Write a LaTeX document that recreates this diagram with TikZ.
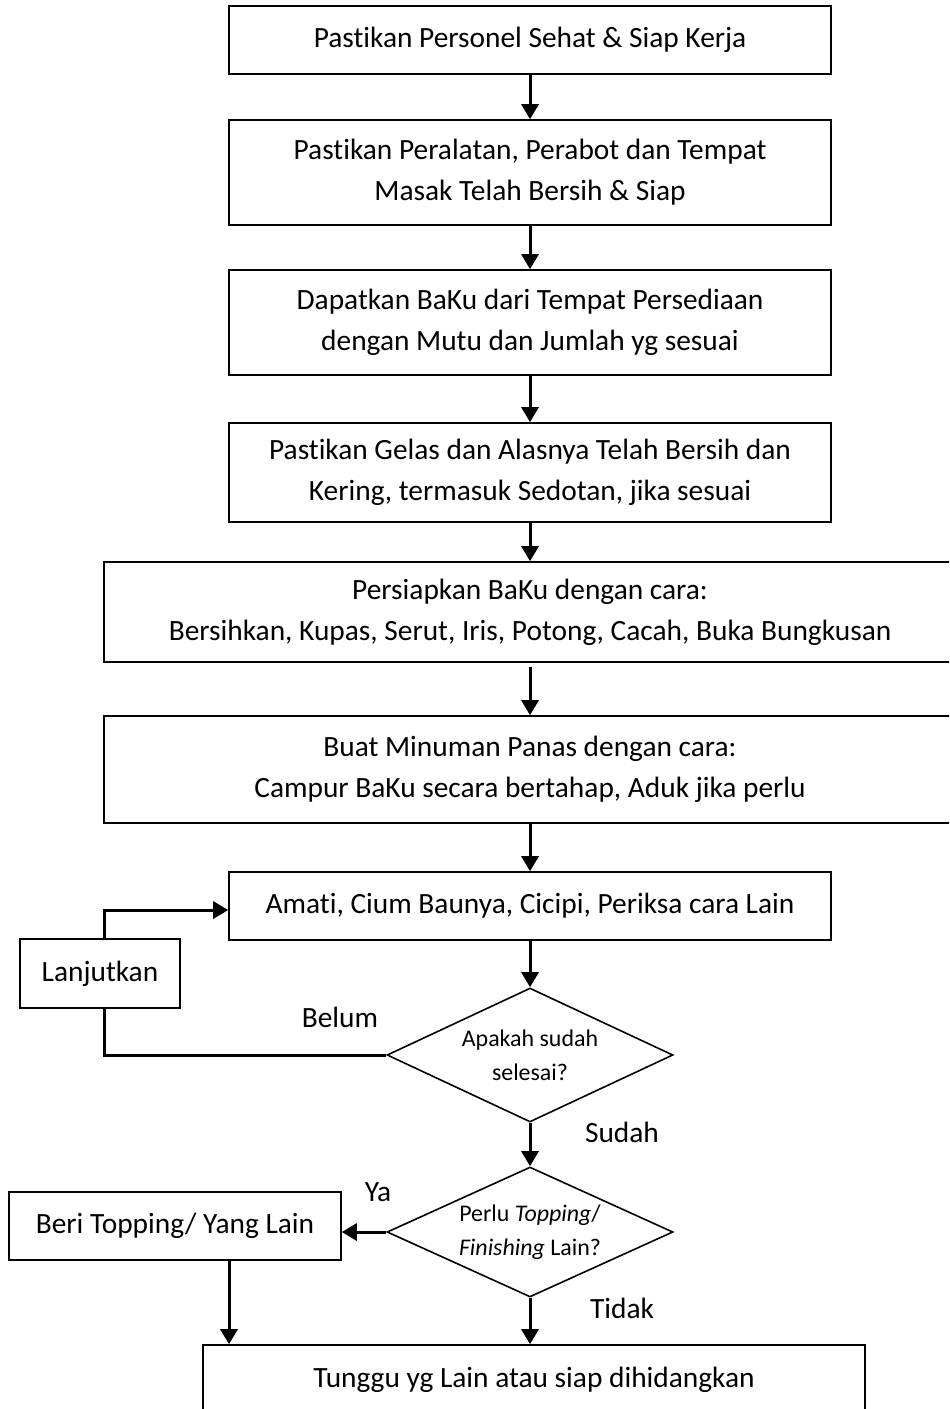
\documentclass[tikz,border=0pt]{standalone}
\usepackage{fontspec}
\setmainfont{Carlito}[RawFeature={-liga;-clig;-dlig;-calt}]
\usetikzlibrary{shapes.geometric,arrows.meta}
\begin{document}
\begin{tikzpicture}[x=1bp,y=-1bp,
  box/.style={draw,line width=1.6bp,rectangle,inner sep=0pt,align=center,
    font=\fontsize{29.5}{41}\selectfont},
  decision/.style={draw,line width=1.6bp,diamond,inner sep=0pt},
  asktext/.style={inner sep=0pt,align=center,font=\fontsize{24}{34.5}\selectfont},
  flow/.style={line width=3bp,-{Triangle[width=17bp,length=15bp]}},
  loopline/.style={line width=3bp},
  tag/.style={inner sep=0pt,font=\fontsize{29.5}{32}\selectfont}]
\fill[white] (0,0) rectangle (949,1409);
\useasboundingbox (0,0) rectangle (949,1409);
\clip (0,0) rectangle (949,1409);

% process steps
\node[box,minimum width=602bp,minimum height=68bp] (b1) at (530,40)
  {Pastikan Personel Sehat \& Siap Kerja};
\node[box,minimum width=602bp,minimum height=105bp] (b2) at (530,172.5)
  {Pastikan Peralatan, Perabot dan Tempat\\Masak Telah Bersih \& Siap};
\node[box,minimum width=602bp,minimum height=105bp] (b3) at (530,322.5)
  {Dapatkan BaKu dari Tempat Persediaan\\dengan Mutu dan Jumlah yg sesuai};
\node[box,minimum width=602bp,minimum height=99bp] (b4) at (530,472.5)
  {Pastikan Gelas dan Alasnya Telah Bersih dan\\Kering, termasuk Sedotan, jika sesuai};
\node[box,minimum width=852bp,minimum height=100bp] (b5) at (530,612)
  {Persiapkan BaKu dengan cara:\\Bersihkan, Kupas, Serut, Iris, Potong, Cacah, Buka Bungkusan};
\node[box,minimum width=852bp,minimum height=107bp] (b6) at (530,769.5)
  {Buat Minuman Panas dengan cara:\\Campur BaKu secara bertahap, Aduk jika perlu};
\node[box,minimum width=602bp,minimum height=68bp] (b7) at (530,906)
  {Amati, Cium Baunya, Cicipi, Periksa cara Lain};
\node[box,minimum width=160bp,minimum height=69bp] (lanj) at (100,973.5)
  {Lanjutkan};

% decisions: outline and wording
\node[decision,aspect=2.134,minimum width=286bp,minimum height=134bp] (d1) at (530,1055) {};
\node[asktext] (d1t) at (d1.center) {Apakah sudah\\selesai?};
\node[decision,aspect=2.2,minimum width=286bp,minimum height=130bp] (d2) at (530,1232) {};
\node[asktext] (d2t) at (d2.center) {Perlu \textit{Topping}/\\\textit{Finishing} Lain?};

\node[box,minimum width=332bp,minimum height=68bp] (beri) at (175,1226)
  {Beri Topping/ Yang Lain};
\node[box,minimum width=662bp,minimum height=70bp] (last) at (534,1380)
  {Tunggu yg Lain atau siap dihidangkan};

% branch labels
\node[tag] (belum) at (340,1017) {Belum};
\node[tag] (sudah) at (622,1132) {Sudah};
\node[tag] (ya) at (378,1192) {Ya};
\node[tag] (tidak) at (622,1308) {Tidak};

% connectors
\draw[flow] (b1.south) -- (b2.north);
\draw[flow] (b2.south) -- (b3.north);
\draw[flow] (b3.south) -- (b4.north);
\draw[flow] (b4.south) -- (b5.north);
\draw[flow,shorten <=4bp] (b5.south) -- (b6.north);
\draw[flow] (b6.south) -- (b7.north);
\draw[flow] (b7.south) -- (d1.north);
\draw[flow] (d1.south) -- (d2.north);
\draw[loopline] (d1.west) -| ([xshift=4bp]lanj.south);
\draw[flow] ([xshift=4bp]lanj.north) |- ([yshift=-4bp]b7.west);
\draw[flow] (d2.west) -- (d2.west -| beri.east);
\draw[flow] ([xshift=54bp]beri.south) -- ([xshift=54bp]beri.south |- last.north);
\draw[flow] (d2.south) -- (d2.south |- last.north);
\end{tikzpicture}
\end{document}
